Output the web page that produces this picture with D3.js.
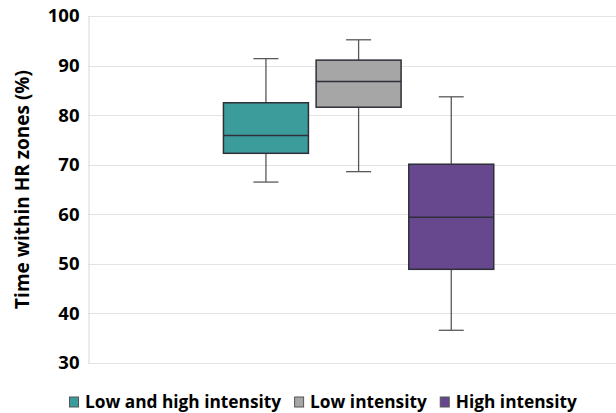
<!DOCTYPE html>
<html>
<head>
<meta charset="utf-8">
<script src="https://cdn.jsdelivr.net/npm/d3@7"></script>
<style>
  body { margin: 0; background: #fff; }
  svg text { font-family: "Open Sans", sans-serif; font-weight: 700; fill: #000; }
</style>
</head>
<body>
<div id="chart"></div>
<script>
// series shown in the chart, in order
const seriesNames = ["Low and high intensity", "Low intensity", "High intensity"];
const seriesColors = ["#3c9c9c", "#a6a6a6", "#67488e"];

// five-number summaries
const whiskerLow = [66.5, 68.6, 36.6];
const quartile1 = [72.3, 81.6, 48.9];
const medians = [75.9, 86.8, 59.4];
const quartile3 = [82.5, 91.1, 70.1];
const whiskerHigh = [91.4, 95.2, 83.7];

const yTicks = [30, 40, 50, 60, 70, 80, 90, 100];

const width = 616;
const height = 413;
const plot = { left: 88, right: 616, top: 16, bottom: 363 };

const boxes = seriesNames.map((name, i) => ({
  name,
  color: seriesColors[i],
  lo: whiskerLow[i],
  q1: quartile1[i],
  med: medians[i],
  q3: quartile3[i],
  hi: whiskerHigh[i],
}));

const svg = d3
  .select("#chart")
  .append("svg")
  .attr("width", width)
  .attr("height", height);

const y = d3.scaleLinear().domain([30, 100]).range([plot.bottom, plot.top]);

const x = d3
  .scaleBand()
  .domain(seriesNames)
  .range([219.6, 497.6])
  .paddingInner(0.083)
  .paddingOuter(0.0415);

// gridlines
svg
  .append("g")
  .selectAll("line")
  .data(yTicks)
  .join("line")
  .attr("x1", plot.left)
  .attr("x2", plot.right)
  .attr("y1", (d) => Math.round(y(d)) + 0.5)
  .attr("y2", (d) => Math.round(y(d)) + 0.5)
  .attr("stroke", "#e3e3e3")
  .attr("stroke-width", 1.2);

// y axis
const yAxis = d3
  .axisLeft(y)
  .tickValues(yTicks)
  .tickSize(0)
  .tickPadding(9);

const axisG = svg
  .append("g")
  .attr("transform", `translate(${plot.left + 0.5},0)`)
  .call(yAxis);

axisG.select(".domain").attr("stroke", "#dedede").attr("stroke-width", 1.2);
axisG
  .selectAll(".tick text")
  .attr("font-family", "'Open Sans', sans-serif")
  .attr("font-weight", 700)
  .attr("font-size", 18.5)
  .attr("fill", "#000");

svg
  .append("text")
  .attr("transform", `translate(29,${(plot.top + plot.bottom) / 2}) rotate(-90)`)
  .attr("text-anchor", "middle")
  .attr("font-size", 19)
  .text("Time within HR zones (%)");

// boxes
const groups = svg
  .append("g")
  .selectAll("g.box")
  .data(boxes)
  .join("g")
  .attr("class", "box");

const cx = (d) => x(d.name) + x.bandwidth() / 2;
const capHalf = 12.5;

groups
  .append("line")
  .attr("x1", cx)
  .attr("x2", cx)
  .attr("y1", (d) => y(d.hi))
  .attr("y2", (d) => y(d.lo))
  .attr("stroke", "#595959")
  .attr("stroke-width", 1.3);

groups
  .selectAll("line.cap")
  .data((d) => [d.lo, d.hi].map((v) => ({ v, c: cx(d) })))
  .join("line")
  .attr("class", "cap")
  .attr("x1", (d) => d.c - capHalf)
  .attr("x2", (d) => d.c + capHalf)
  .attr("y1", (d) => y(d.v))
  .attr("y2", (d) => y(d.v))
  .attr("stroke", "#595959")
  .attr("stroke-width", 1.3);

groups
  .append("rect")
  .attr("x", (d) => x(d.name))
  .attr("width", x.bandwidth())
  .attr("y", (d) => y(d.q3))
  .attr("height", (d) => y(d.q1) - y(d.q3))
  .attr("fill", (d) => d.color)
  .attr("stroke", "#2f2f3a")
  .attr("stroke-width", 1.5);

groups
  .append("line")
  .attr("x1", (d) => x(d.name))
  .attr("x2", (d) => x(d.name) + x.bandwidth())
  .attr("y1", (d) => y(d.med))
  .attr("y2", (d) => y(d.med))
  .attr("stroke", "#2f2f3a")
  .attr("stroke-width", 1.5);

// legend
const legend = svg.append("g").attr("transform", "translate(69,402)");
let lx = 0;
boxes.forEach((d) => {
  const item = legend.append("g").attr("transform", `translate(${lx},0)`);
  item
    .append("rect")
    .attr("x", 0.5)
    .attr("y", -5)
    .attr("width", 9)
    .attr("height", 10)
    .attr("fill", d.color)
    .attr("stroke", "#555")
    .attr("stroke-width", 1);
  const t = item
    .append("text")
    .attr("x", 16)
    .attr("y", 0)
    .attr("dy", "0.36em")
    .attr("font-size", 17.3)
    .text(d.name);
  lx += 16 + t.node().getComputedTextLength() + 13;
});
</script>
</body>
</html>
